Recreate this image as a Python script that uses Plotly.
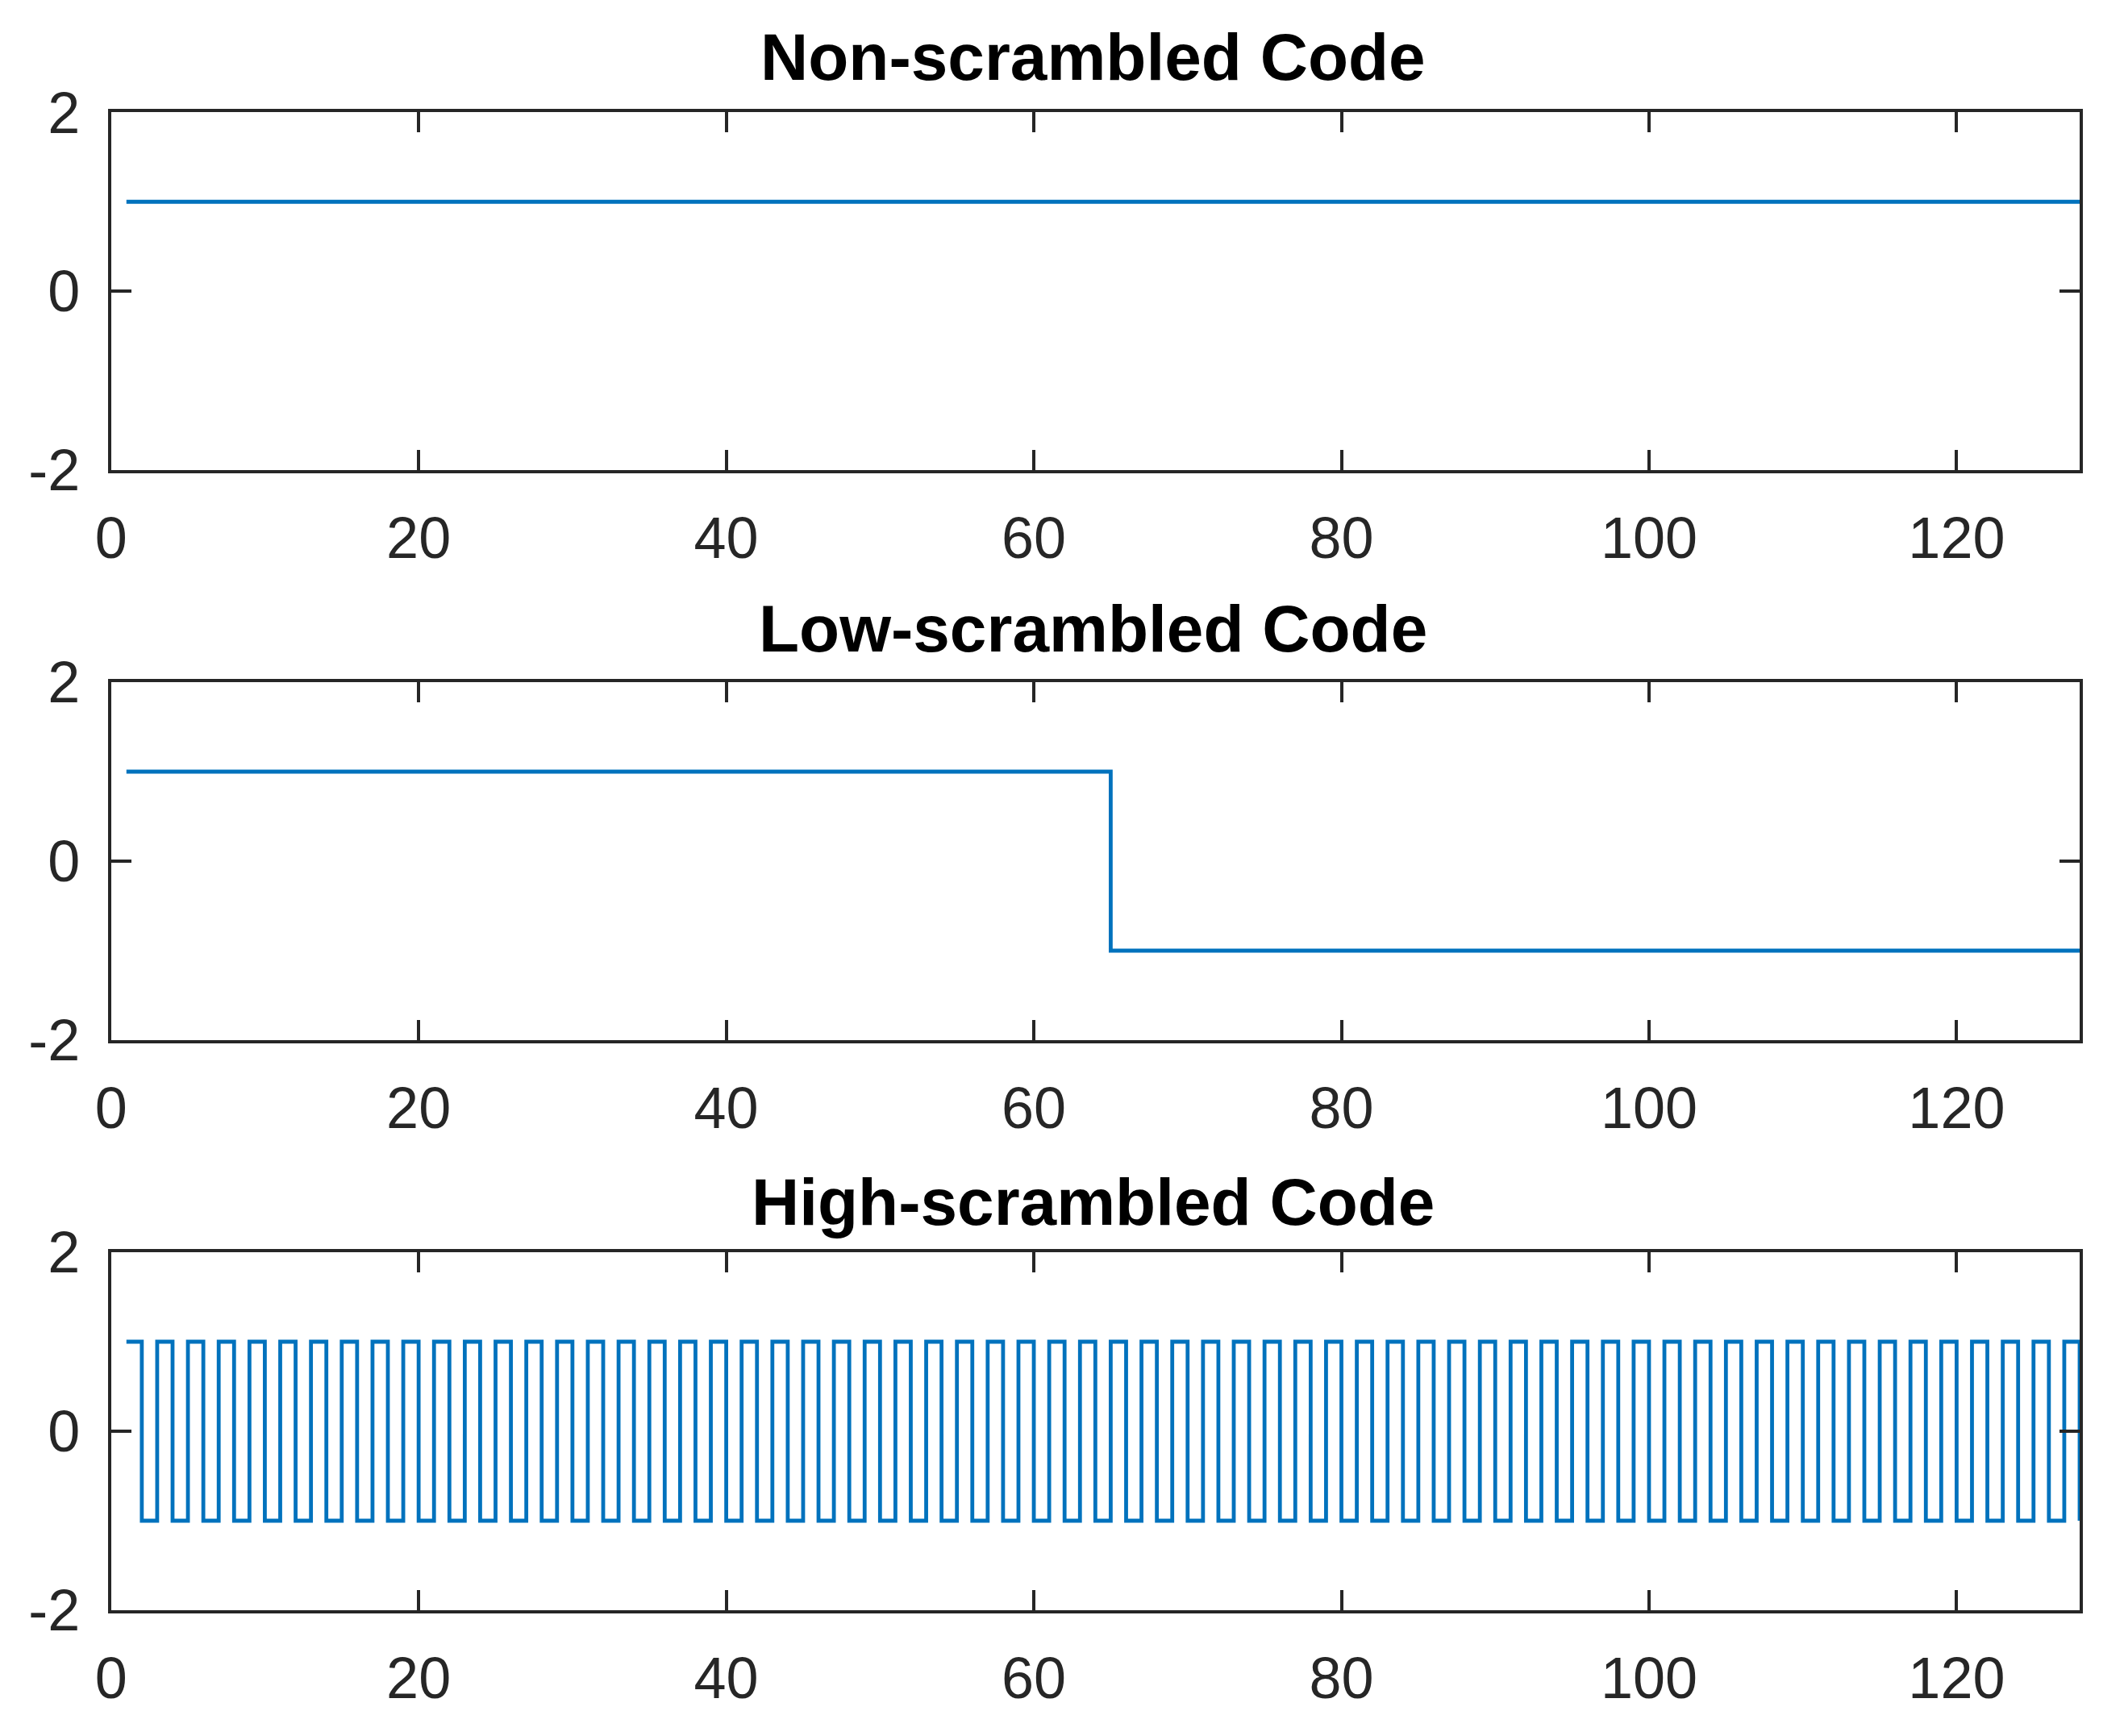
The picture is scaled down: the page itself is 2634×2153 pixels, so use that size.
import plotly.graph_objects as go

# ---- data ----
sample_index = [
    1, 2, 3, 4, 5, 6, 7, 8, 9, 10, 11, 12, 13, 14, 15, 16,
    17, 18, 19, 20, 21, 22, 23, 24, 25, 26, 27, 28, 29, 30, 31, 32,
    33, 34, 35, 36, 37, 38, 39, 40, 41, 42, 43, 44, 45, 46, 47, 48,
    49, 50, 51, 52, 53, 54, 55, 56, 57, 58, 59, 60, 61, 62, 63, 64,
    65, 66, 67, 68, 69, 70, 71, 72, 73, 74, 75, 76, 77, 78, 79, 80,
    81, 82, 83, 84, 85, 86, 87, 88, 89, 90, 91, 92, 93, 94, 95, 96,
    97, 98, 99, 100, 101, 102, 103, 104, 105, 106, 107, 108, 109, 110, 111, 112,
    113, 114, 115, 116, 117, 118, 119, 120, 121, 122, 123, 124, 125, 126, 127, 128,
]

non_scrambled = [
    1, 1, 1, 1, 1, 1, 1, 1, 1, 1, 1, 1, 1, 1, 1, 1,
    1, 1, 1, 1, 1, 1, 1, 1, 1, 1, 1, 1, 1, 1, 1, 1,
    1, 1, 1, 1, 1, 1, 1, 1, 1, 1, 1, 1, 1, 1, 1, 1,
    1, 1, 1, 1, 1, 1, 1, 1, 1, 1, 1, 1, 1, 1, 1, 1,
    1, 1, 1, 1, 1, 1, 1, 1, 1, 1, 1, 1, 1, 1, 1, 1,
    1, 1, 1, 1, 1, 1, 1, 1, 1, 1, 1, 1, 1, 1, 1, 1,
    1, 1, 1, 1, 1, 1, 1, 1, 1, 1, 1, 1, 1, 1, 1, 1,
    1, 1, 1, 1, 1, 1, 1, 1, 1, 1, 1, 1, 1, 1, 1, 1,
]

low_scrambled = [
    1, 1, 1, 1, 1, 1, 1, 1, 1, 1, 1, 1, 1, 1, 1, 1,
    1, 1, 1, 1, 1, 1, 1, 1, 1, 1, 1, 1, 1, 1, 1, 1,
    1, 1, 1, 1, 1, 1, 1, 1, 1, 1, 1, 1, 1, 1, 1, 1,
    1, 1, 1, 1, 1, 1, 1, 1, 1, 1, 1, 1, 1, 1, 1, 1,
    -1, -1, -1, -1, -1, -1, -1, -1, -1, -1, -1, -1, -1, -1, -1, -1,
    -1, -1, -1, -1, -1, -1, -1, -1, -1, -1, -1, -1, -1, -1, -1, -1,
    -1, -1, -1, -1, -1, -1, -1, -1, -1, -1, -1, -1, -1, -1, -1, -1,
    -1, -1, -1, -1, -1, -1, -1, -1, -1, -1, -1, -1, -1, -1, -1, -1,
]

high_scrambled = [
    1, -1, 1, -1, 1, -1, 1, -1, 1, -1, 1, -1, 1, -1, 1, -1,
    1, -1, 1, -1, 1, -1, 1, -1, 1, -1, 1, -1, 1, -1, 1, -1,
    1, -1, 1, -1, 1, -1, 1, -1, 1, -1, 1, -1, 1, -1, 1, -1,
    1, -1, 1, -1, 1, -1, 1, -1, 1, -1, 1, -1, 1, -1, 1, -1,
    1, -1, 1, -1, 1, -1, 1, -1, 1, -1, 1, -1, 1, -1, 1, -1,
    1, -1, 1, -1, 1, -1, 1, -1, 1, -1, 1, -1, 1, -1, 1, -1,
    1, -1, 1, -1, 1, -1, 1, -1, 1, -1, 1, -1, 1, -1, 1, -1,
    1, -1, 1, -1, 1, -1, 1, -1, 1, -1, 1, -1, 1, -1, 1, -1,
]

titles = ["Non-scrambled Code", "Low-scrambled Code", "High-scrambled Code"]
series = [non_scrambled, low_scrambled, high_scrambled]
x_ticks = [0, 20, 40, 60, 80, 100, 120]
y_ticks = [-2, 0, 2]
y_tick_text = ["-2", "0", "2"]

# ---- style / layout ----
W, H = 2634, 2153
OFF = 8.0  # page body margin offset
LINE_COLOR = "#0072BD"
AX_COLOR = "#262626"
FONT = "Liberation Sans, Arial, Helvetica, sans-serif"
x_domain = [(137.7 - OFF) / W, (2579.0 - OFF) / W]
y_domains = [
    [1 - (583.0 - OFF) / H, 1 - (139.3 - OFF) / H],
    [1 - (1290.0 - OFF) / H, 1 - (846.0 - OFF) / H],
    [1 - (1997.0 - OFF) / H, 1 - (1553.0 - OFF) / H],
]
title_y = [71.0 - OFF, 780.0 - OFF, 1490.0 - OFF]
title_x = (1355.0 - OFF) / W

fig = go.Figure()
annotations = []
for i, (ys, title) in enumerate(zip(series, titles)):
    sfx = "" if i == 0 else str(i + 1)
    fig.add_trace(go.Scatter(
        x=sample_index, y=ys, mode="lines",
        line=dict(color=LINE_COLOR, width=4.8, shape="hv"),
        xaxis="x" + sfx, yaxis="y" + sfx, showlegend=False,
        hoverinfo="x+y",
    ))
    common = dict(
        showline=True, linewidth=4, linecolor=AX_COLOR, mirror="ticks",
        ticks="inside", ticklen=25, tickwidth=4, tickcolor=AX_COLOR,
        showgrid=False, zeroline=False, automargin=False,
        tickfont=dict(family=FONT, size=72, color=AX_COLOR),
    )
    fig.update_layout(**{
        "xaxis" + sfx: dict(
            domain=x_domain, range=[0, 128], tickvals=x_ticks,
            anchor="y" + sfx, ticklabelstandoff=19, **common,
        ),
        "yaxis" + sfx: dict(
            domain=y_domains[i], range=[-2, 2], tickvals=y_ticks,
            ticktext=y_tick_text,
            anchor="x" + sfx, ticklabelstandoff=20, **common,
        ),
    })
    annotations.append(dict(
        text="<b>" + title + "</b>", x=title_x,
        y=1 - title_y[i] / H, xref="paper", yref="paper",
        xanchor="center", yanchor="middle", showarrow=False,
        font=dict(family=FONT, size=82, color="#000000"),
    ))

fig.update_layout(
    width=W, height=H, margin=dict(l=0, r=0, t=0, b=0, autoexpand=False),
    paper_bgcolor="white", plot_bgcolor="white",
    annotations=annotations,
)

fig.write_html("out.html")
